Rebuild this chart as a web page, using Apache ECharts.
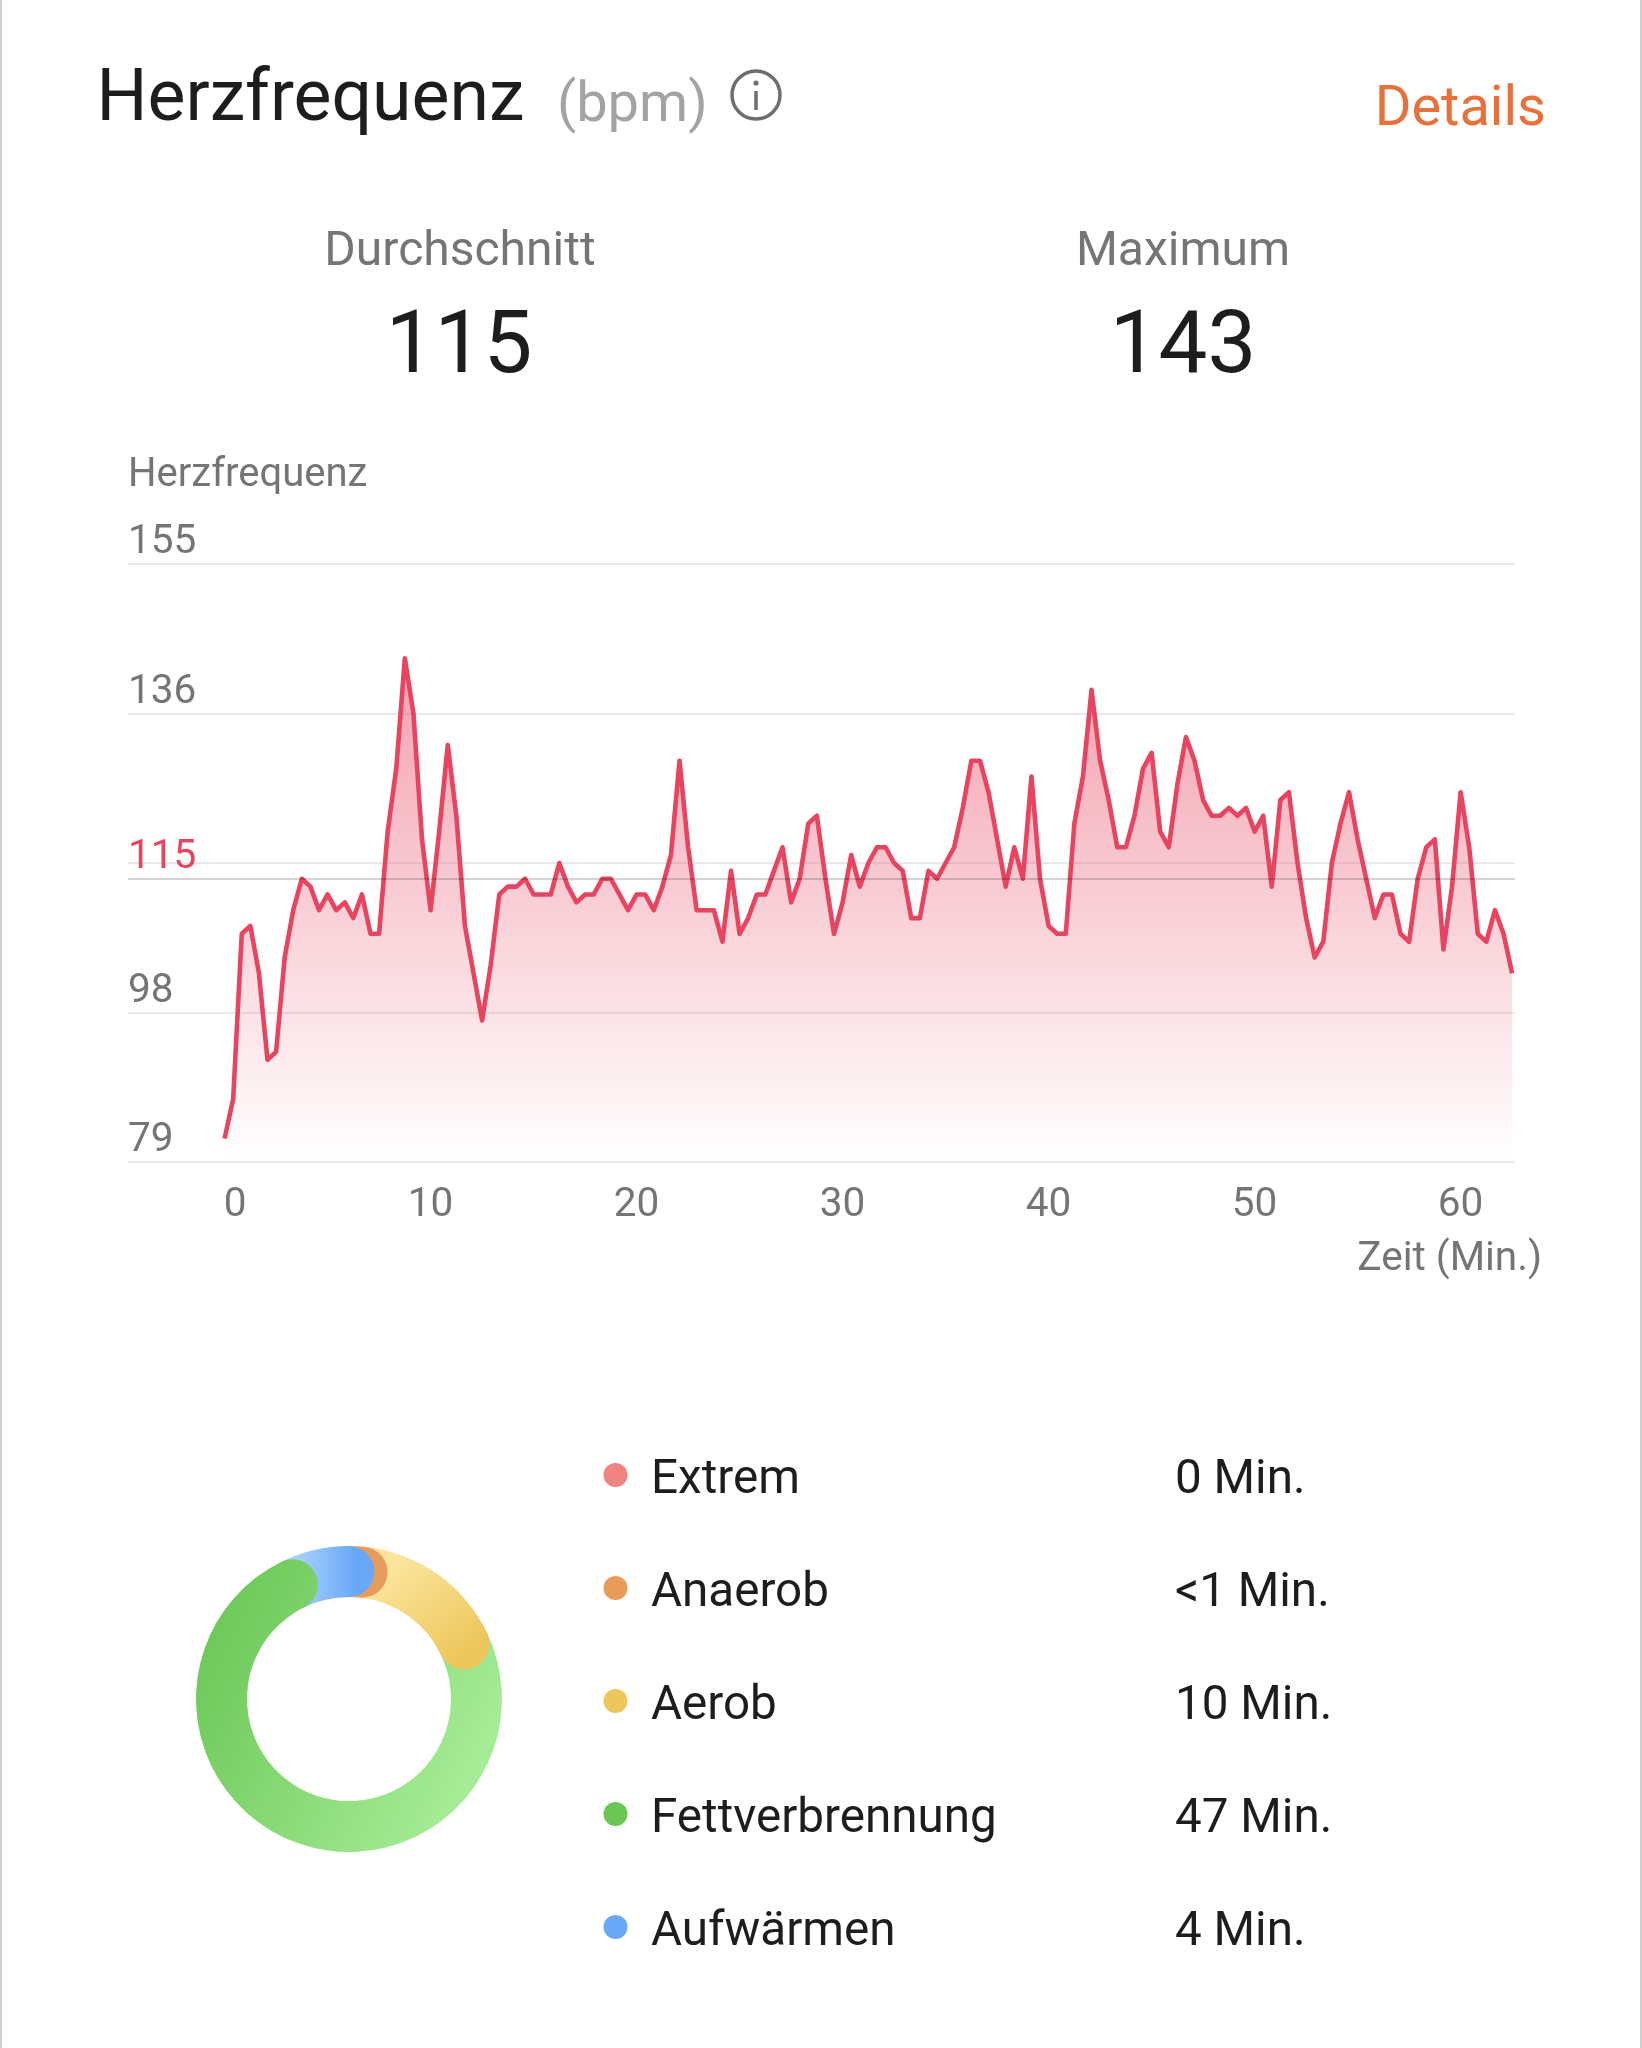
<!DOCTYPE html>
<html><head><meta charset="utf-8">
<style>html,body{margin:0;padding:0;background:#fff}#c{width:1642px;height:2048px}</style>
<script src="https://cdn.jsdelivr.net/npm/echarts@6/dist/echarts.min.js"></script>
</head><body><div id="c"></div>
<script>
const heartRate = [82,87,108,109,103,92,93,105,111,115,114,111,113,111,112,110,113,108,108,121,129,143,136,120,111,121,132,123,109,103,97,104,113,114,114,115,113,113,113,117,114,112,113,113,115,115,113,111,113,113,111,114,118,130,119,111,111,111,107,116,108,110,113,113,116,119,112,115,122,123,115,108,112,118,114,117,119,119,117,116,110,110,116,115,117,119,124,130,130,126,120,114,119,115,128,115,109,108,108,122,128,139,130,125,119,119,123,129,131,121,119,127,133,130,125,123,123,124,123,124,121,123,114,125,126,117,110,105,107,117,122,126,120,115,110,113,113,108,107,115,119,120,106,114,126,119,108,107,111,108,103];
const sampleMinutes = 25 / 60;
const xTicks = [0,10,20,30,40,50,60];
const yLabelValues = [79,98,115,136,155];
const averageHr = 115;
const maximumHr = 143;
const zoneNames = ['Extrem','Anaerob','Aerob','Fettverbrennung','Aufwärmen'];
const zoneLabels = ['0 Min.','<1 Min.','10 Min.','47 Min.','4 Min.'];
const zoneColors = ['#F08482','#E89C5C','#EDC75B','#6BC655','#6AA8F7'];
const zoneArcMinutes = [0,1,10,46,4.5];

const FONT = 'Roboto';
const lin = (x,y,x2,y2,c1,c2) => ({type:'linear',x,y,x2,y2,global:true,colorStops:[{offset:0,color:c1},{offset:1,color:c2}]});
const aerobFill = lin(400,1560,470,1650,'#FBE49C','#EDC75B');
const fettFill = lin(515,1690,225,1545,'#A6EC96','#69C655');
const warmFill = lin(295,1560,355,1560,'#AAD2FB','#6AA8F7');
const total = zoneArcMinutes.reduce((a,b)=>a+b,0);
const capMinutes = 0.6;

function text(t,x,y,size,fill,align,weight){
  return {type:'text',silent:true,style:{text:t,x,y,fontFamily:FONT,fontSize:size,fontWeight:weight||400,fill,textAlign:align||'left',textVerticalAlign:'middle'}};
}
const graphics = [
  {type:'rect',silent:true,shape:{x:0,y:0,width:2,height:2048},style:{fill:'#cfcfcf'}},
  {type:'rect',silent:true,shape:{x:1640,y:0,width:2,height:2048},style:{fill:'#cfcfcf'}},
  text('Herzfrequenz',96.5,102,71.5,'#1d1d1d'),
  text('(bpm)',557,107,56,'#a3a3a3'),
  {type:'circle',silent:true,shape:{cx:756,cy:95,r:24},style:{fill:'none',stroke:'#6e6e6e',lineWidth:3.5}},
  {type:'circle',silent:true,shape:{cx:756,cy:83,r:2.6},style:{fill:'#6e6e6e'}},
  {type:'line',silent:true,shape:{x1:756,y1:91,x2:756,y2:110},style:{stroke:'#6e6e6e',lineWidth:3.5}},
  text('Details',1546,111,56,'#E8703A','right'),
  text('Durchschnitt',460,253,48,'#757575','center'),
  text('Maximum',1183,253,48,'#757575','center'),
  text(String(averageHr),459,350,87,'#1d1d1d','center'),
  text(String(maximumHr),1183,350,87,'#1d1d1d','center')
];
const rowY = [1481,1594,1707,1820,1933];
zoneNames.forEach((n,i)=>{
  graphics.push({type:'circle',silent:true,shape:{cx:615.5,cy:rowY[i]-6,r:12},style:{fill:zoneColors[i]}});
  graphics.push(text(n,651,rowY[i],47.6,'#1d1d1d'));
  graphics.push(text(zoneLabels[i],1175,rowY[i],47.6,'#1d1d1d'));
});

const zoneFills = [null,zoneColors[1],aerobFill,fettFill,warmFill];
const zoneZ = [0,4,3,6,5];
const ringSeries = zoneNames.map((n,i)=>({
  type:'bar',name:n,coordinateSystem:'polar',polarIndex:0,stack:'zones',roundCap:true,
  barWidth:'100%',data:[zoneArcMinutes[i]],z:zoneZ[i],silent:true,itemStyle:{color:zoneFills[i]}
})).filter((s,i)=>zoneArcMinutes[i]>0);
ringSeries.push(
  {type:'bar',name:'base',coordinateSystem:'polar',polarIndex:1,stack:'cap',barWidth:'100%',silent:true,z:1,
   data:[zoneArcMinutes[1]+zoneArcMinutes[2]-capMinutes],itemStyle:{color:'rgba(0,0,0,0)'}},
  {type:'bar',name:'Aerob',coordinateSystem:'polar',polarIndex:1,stack:'cap',barWidth:'100%',silent:true,roundCap:true,z:7,
   data:[capMinutes],itemStyle:{color:aerobFill}}
);
const ringCfg = {center:[349,1699],radius:[102,153]};

const option = {
  animation:false,
  backgroundColor:'#fff',
  textStyle:{fontFamily:FONT},
  graphic:graphics,
  grid:{left:128,top:564,width:1387,height:598,containLabel:false},
  xAxis:{type:'value',min:-4.689,max:62.64,
    name:'Zeit (Min.)',nameLocation:'end',nameGap:27,
    nameTextStyle:{fontFamily:FONT,fontSize:40.5,color:'#757575',align:'right',verticalAlign:'top',padding:[77,0,0,0]},
    axisLine:{show:false},axisTick:{show:false},splitLine:{show:false},
    axisLabel:{customValues:xTicks,margin:23,fontFamily:FONT,fontSize:40.5,color:'#757575',
      formatter:v=>v===0?'{z|0}':String(v),
      rich:{z:{fontFamily:FONT,fontSize:40.5,color:'#757575',padding:[0,0,0,21]}}}},
  yAxis:{type:'value',min:79,max:155,interval:19,
    name:'Herzfrequenz',nameLocation:'end',nameGap:88,
    nameTextStyle:{fontFamily:FONT,fontSize:40,color:'#757575',align:'left',verticalAlign:'middle'},
    axisLine:{show:false,onZero:false},axisTick:{show:false},
    splitLine:{show:true,lineStyle:{color:'#e9e9e9',width:2}},
    axisLabel:{customValues:yLabelValues,inside:true,margin:0,align:'left',verticalAlign:'bottom',fontFamily:FONT,fontSize:40.5,lineHeight:42,
      color:v=>Number(v)===averageHr?'#E8435F':'#757575'}},
  polar:[ringCfg,ringCfg],
  angleAxis:[
    {polarIndex:0,type:'value',min:0,max:total,startAngle:90,clockwise:true,show:false},
    {polarIndex:1,type:'value',min:0,max:total,startAngle:90,clockwise:true,show:false}],
  radiusAxis:[
    {polarIndex:0,type:'category',data:['Zonen'],show:false},
    {polarIndex:1,type:'category',data:['Zonen'],show:false}],
  series:[{
    type:'line',name:'Herzfrequenz',data:heartRate.map((v,i)=>[i*sampleMinutes,v]),
    showSymbol:false,smooth:false,silent:true,z:3,
    lineStyle:{color:'#E8435F',width:4.6,join:'round'},
    areaStyle:{origin:'start',color:{type:'linear',x:0,y:0,x2:0,y2:1,colorStops:[{offset:0,color:'rgba(232,67,95,0.72)'},{offset:1,color:'rgba(232,67,95,0)'}]}},
    markLine:{silent:true,symbol:'none',label:{show:false},lineStyle:{color:'rgba(0,0,0,0.17)',type:'solid',width:2},data:[{yAxis:averageHr}]}
  }].concat(ringSeries)
};
const chart = echarts.init(document.getElementById('c'),null,{renderer:'canvas'});
chart.setOption(option);
</script></body></html>
